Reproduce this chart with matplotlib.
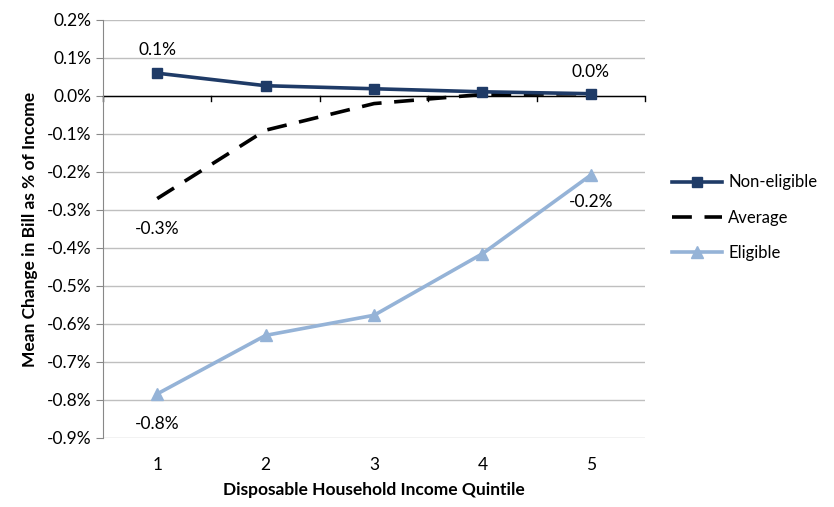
import matplotlib.pyplot as plt
from matplotlib.ticker import FuncFormatter

plt.rcParams['font.family'] = ['Lato', 'DejaVu Sans']

quintiles = [1, 2, 3, 4, 5]
non_eligible = [0.060, 0.027, 0.019, 0.011, 0.006]
average = [-0.270, -0.090, -0.020, 0.004, 0.006]
eligible = [-0.784, -0.630, -0.577, -0.415, -0.208]

navy = "#1F3B67"
light = "#95B3D7"
fs = 12.5

fig = plt.figure(figsize=(8.34, 5.07), dpi=100)
ax = fig.add_axes([0.1235, 0.1361, 0.65, 0.8245])

ax.plot(quintiles, non_eligible, color=navy, lw=2.6, marker="s", ms=7.5, label="Non-eligible", zorder=4)
ax.plot(quintiles, average, color="black", lw=2.6, ls=(0, (5.5, 3.5)), label="Average", zorder=3)
ax.plot(quintiles, eligible, color=light, lw=2.6, marker="^", ms=8, label="Eligible", zorder=4)

ax.set_xlim(0.5, 5.5)
ax.set_ylim(-0.9, 0.2)
ax.set_yticks([i / 10 for i in range(-9, 3)])
ax.yaxis.set_major_formatter(FuncFormatter(lambda v, p: f"{v:.1f}%"))
ax.set_xticks(quintiles)
ax.tick_params(axis="x", length=0, pad=14, labelsize=fs)
ax.tick_params(axis="y", length=5, color="#888888", labelsize=fs)
ax.grid(axis="y", color="#BFBFBF", lw=1)
ax.set_axisbelow(True)
for s in ["top", "right", "bottom"]:
    ax.spines[s].set_visible(False)
ax.spines["left"].set_color("#888888")

# zero axis with category boundary ticks
ax.axhline(0, color="black", lw=1, zorder=2)
for b in [0.5, 1.5, 2.5, 3.5, 4.5, 5.5]:
    ax.plot([b, b], [0, -0.013], color="black", lw=1, clip_on=False, zorder=2)

# data labels
lbl = dict(ha="center", fontsize=fs, textcoords="offset points")
ax.annotate(f"{non_eligible[0]:.1f}%", (1, non_eligible[0]), xytext=(0, 11), va="bottom", **lbl)
ax.annotate(f"{non_eligible[4]:.1f}%", (5, non_eligible[4]), xytext=(0, 10), va="bottom", **lbl)
ax.annotate(f"{average[0]:.1f}%", (1, average[0]), xytext=(0, -16), va="top", **lbl)
ax.annotate(f"{eligible[0]:.1f}%", (1, eligible[0]), xytext=(0, -16), va="top", **lbl)
ax.annotate(f"{eligible[4]:.1f}%", (5, eligible[4]), xytext=(0, -14), va="top", **lbl)

ax.set_xlabel("Disposable Household Income Quintile", fontsize=fs, fontweight="bold", labelpad=6)
ax.set_ylabel("Mean Change in Bill as % of Income", fontsize=fs, fontweight="bold", labelpad=6)

fig.legend(loc="center left", bbox_to_anchor=(0.792, 0.571), frameon=False, fontsize=12,
           handlelength=3.0, labelspacing=1.15, handletextpad=0.35, borderpad=0.2)

fig.savefig("out.png", dpi=100)
